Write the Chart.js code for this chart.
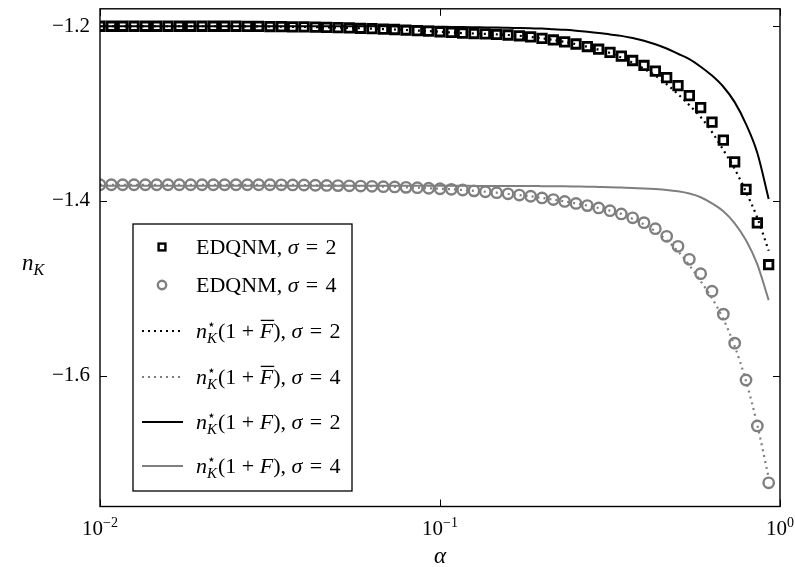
<!DOCTYPE html>
<html>
<head>
<meta charset="utf-8">
<script src="https://cdn.jsdelivr.net/npm/chart.js@4.4.1/dist/chart.umd.min.js"></script>
<style>
  html, body { margin: 0; padding: 0; background: #ffffff; }
  #wrap { width: 795px; height: 567px; position: relative; }
</style>
</head>
<body>
<div id="wrap"><canvas id="chart"></canvas></div>
<script>
// Sample points in alpha (30 per decade)
const alpha = [
  0.01, 0.010798, 0.011659, 0.012589, 0.013594, 0.014678, 0.015849, 0.017113, 0.018478, 0.019953,
  0.021544, 0.023263, 0.025119, 0.027123, 0.029286, 0.031623, 0.034145, 0.036869, 0.039811, 0.042987,
  0.046416, 0.050119, 0.054117, 0.058434, 0.063096, 0.068129, 0.073564, 0.079433, 0.085770, 0.092612,
  0.1, 0.10798, 0.11659, 0.12589, 0.13594, 0.14678, 0.15849, 0.17113, 0.18478, 0.19953,
  0.21544, 0.23263, 0.25119, 0.27123, 0.29286, 0.31623, 0.34145, 0.36869, 0.39811, 0.42987,
  0.46416, 0.50119, 0.54117, 0.58434, 0.63096, 0.68129, 0.73564, 0.79433, 0.85770, 0.92612
];

// EDQNM, sigma = 2 (squares)
const edqnmSigma2 = [
  -1.2000, -1.2000, -1.2000, -1.2000, -1.2000, -1.2000, -1.2000, -1.2000, -1.2000, -1.2000,
  -1.2000, -1.2000, -1.2000, -1.2001, -1.2002, -1.2003, -1.2005, -1.2006, -1.2008, -1.2010,
  -1.2013, -1.2016, -1.2019, -1.2023, -1.2027, -1.2032, -1.2037, -1.2043, -1.2049, -1.2056,
  -1.2063, -1.2071, -1.2078, -1.2083, -1.2088, -1.2094, -1.2100, -1.2109, -1.2122, -1.2138,
  -1.2157, -1.2179, -1.2203, -1.2232, -1.2263, -1.2299, -1.2343, -1.2392, -1.2449, -1.2514,
  -1.2589, -1.2680, -1.2794, -1.2931, -1.3097, -1.3303, -1.3554, -1.3869, -1.4251, -1.4731
];

// EDQNM, sigma = 4 (circles)
const edqnmSigma4 = [
  -1.3815, -1.3815, -1.3815, -1.3815, -1.3815, -1.3815, -1.3815, -1.3815, -1.3815, -1.3815,
  -1.3815, -1.3815, -1.3815, -1.3815, -1.3815, -1.3815, -1.3816, -1.3817, -1.3818, -1.3821,
  -1.3823, -1.3825, -1.3827, -1.3830, -1.3833, -1.3837, -1.3840, -1.3845, -1.3849, -1.3855,
  -1.3861, -1.3867, -1.3875, -1.3885, -1.3895, -1.3906, -1.3919, -1.3933, -1.3947, -1.3966,
  -1.3985, -1.4006, -1.4029, -1.4054, -1.4081, -1.4112, -1.4149, -1.4194, -1.4249, -1.4318,
  -1.4406, -1.4520, -1.4669, -1.4834, -1.5034, -1.5297, -1.5629, -1.6051, -1.6577, -1.7229
];

// n*(1 + F-bar), sigma = 2 (black dotted)
const fbarSigma2 = [
  -1.2000, -1.2000, -1.2000, -1.2000, -1.2000, -1.2000, -1.2000, -1.2000, -1.2000, -1.2000,
  -1.2000, -1.2000, -1.2000, -1.2001, -1.2002, -1.2003, -1.2005, -1.2006, -1.2008, -1.2010,
  -1.2013, -1.2016, -1.2019, -1.2023, -1.2027, -1.2032, -1.2037, -1.2043, -1.2049, -1.2056,
  -1.2063, -1.2071, -1.2078, -1.2083, -1.2088, -1.2094, -1.2100, -1.2109, -1.2122, -1.2138,
  -1.2157, -1.2179, -1.2205, -1.2235, -1.2268, -1.2306, -1.2360, -1.2417, -1.2486, -1.2566,
  -1.2663, -1.2777, -1.2903, -1.3040, -1.3211, -1.3417, -1.3634, -1.3897, -1.4194, -1.4571
];

// n*(1 + F-bar), sigma = 4 (grey dotted)
const fbarSigma4 = [
  -1.3815, -1.3815, -1.3815, -1.3815, -1.3815, -1.3815, -1.3815, -1.3815, -1.3815, -1.3815,
  -1.3815, -1.3815, -1.3815, -1.3815, -1.3815, -1.3815, -1.3816, -1.3817, -1.3818, -1.3821,
  -1.3823, -1.3825, -1.3827, -1.3830, -1.3833, -1.3837, -1.3840, -1.3845, -1.3849, -1.3855,
  -1.3861, -1.3867, -1.3875, -1.3885, -1.3895, -1.3906, -1.3919, -1.3933, -1.3947, -1.3966,
  -1.3985, -1.4006, -1.4029, -1.4054, -1.4081, -1.4112, -1.4149, -1.4206, -1.4269, -1.4349,
  -1.4451, -1.4577, -1.4737, -1.4920, -1.5114, -1.5354, -1.5663, -1.6063, -1.6566, -1.7171
];

// n*(1 + F), sigma = 2 (black solid)
const fSigma2 = [
  -1.2000, -1.2000, -1.2000, -1.2000, -1.2000, -1.2000, -1.2000, -1.2000, -1.2000, -1.2000,
  -1.2000, -1.2000, -1.2000, -1.2000, -1.2000, -1.2000, -1.2000, -1.2000, -1.2000, -1.2000,
  -1.2000, -1.2000, -1.2000, -1.2000, -1.2000, -1.2000, -1.2002, -1.2003, -1.2004, -1.2005,
  -1.2006, -1.2008, -1.2009, -1.2011, -1.2013, -1.2015, -1.2018, -1.2021, -1.2024, -1.2027,
  -1.2034, -1.2041, -1.2051, -1.2063, -1.2077, -1.2094, -1.2110, -1.2135, -1.2166, -1.2206,
  -1.2255, -1.2315, -1.2376, -1.2463, -1.2565, -1.2693, -1.2869, -1.3120, -1.3451, -1.3977
];

// n*(1 + F), sigma = 4 (grey solid)
const fSigma4 = [
  -1.3826, -1.3826, -1.3826, -1.3826, -1.3826, -1.3826, -1.3826, -1.3826, -1.3826, -1.3826,
  -1.3826, -1.3826, -1.3826, -1.3826, -1.3826, -1.3826, -1.3826, -1.3826, -1.3826, -1.3826,
  -1.3826, -1.3826, -1.3826, -1.3826, -1.3826, -1.3826, -1.3826, -1.3826, -1.3826, -1.3826,
  -1.3826, -1.3827, -1.3827, -1.3828, -1.3828, -1.3829, -1.3829, -1.3830, -1.3830, -1.3831,
  -1.3832, -1.3833, -1.3835, -1.3837, -1.3840, -1.3843, -1.3848, -1.3853, -1.3857, -1.3864,
  -1.3874, -1.3890, -1.3916, -1.3958, -1.4029, -1.4120, -1.4257, -1.4451, -1.4726, -1.5137
];

const xTickValues = [0.01, 0.1, 1];
const xTickExponents = ['\u22122', '\u22121', '0'];
const yTickValues = [-1.6, -1.4, -1.2];

const BLACK = '#000000';
const GREY = '#7f7f7f';
const SERIF = "'Liberation Serif', 'DejaVu Serif', serif";
const EQ = '\u2004=\u2004';

const pts = ys => alpha.map((a, i) => ({ x: a, y: ys[i] }));

const markerSet = (label, ys, color, style, radius, bw) => ({
  label, data: pts(ys), showLine: false,
  pointStyle: style, pointRadius: radius, pointHoverRadius: radius,
  pointBorderColor: color, pointBackgroundColor: 'rgba(0,0,0,0)',
  pointBorderWidth: bw, borderColor: color, backgroundColor: 'rgba(0,0,0,0)'
});
const lineSet = (label, ys, color, dash) => ({
  label, data: pts(ys), showLine: true, pointRadius: 0, pointHoverRadius: 0,
  borderColor: color, borderWidth: dash.length ? 2.2 : 2, borderDash: dash,
  cubicInterpolationMode: 'monotone', fill: false
});

const datasets = [
  markerSet('EDQNM, σ = 2', edqnmSigma2, BLACK, 'rect', 6, 2.8),
  markerSet('EDQNM, σ = 4', edqnmSigma4, GREY, 'circle', 5.2, 2.4),
  lineSet('n*(1 + F̄), σ = 2', fbarSigma2, BLACK, [2, 4]),
  lineSet('n*(1 + F̄), σ = 4', fbarSigma4, GREY, [2, 4]),
  lineSet('n*(1 + F), σ = 2', fSigma2, BLACK, []),
  lineSet('n*(1 + F), σ = 4', fSigma4, GREY, [])
];

// Rich text pieces for the legend entries
function mathLabel(bar, sigma) {
  return [
    { t: 'n', it: true },
    { t: '\u22C6', size: 14, dy: -9, stack: true },
    { t: 'K', it: true, size: 15, dy: 5 },
    { t: '(1\u2005+\u2005' },
    { t: 'F', it: true, over: bar },
    { t: '), ' },
    { t: 'σ', it: true },
    { t: EQ + sigma }
  ];
}
const legendRows = [
  [{ t: 'EDQNM, ' }, { t: 'σ', it: true }, { t: EQ + '2' }],
  [{ t: 'EDQNM, ' }, { t: 'σ', it: true }, { t: EQ + '4' }],
  mathLabel(true, 2),
  mathLabel(true, 4),
  mathLabel(false, 2),
  mathLabel(false, 4)
];

function drawRich(ctx, pieces, x, baseline, baseSize) {
  let cx = x;
  let stackX = null;
  for (const p of pieces) {
    const size = p.size || baseSize;
    ctx.font = (p.it ? 'italic ' : '') + size + 'px ' + SERIF;
    const w = ctx.measureText(p.t).width;
    const drawX = (stackX !== null) ? stackX : cx;
    ctx.fillText(p.t, drawX, baseline + (p.dy || 0));
    if (p.over) {
      ctx.save();
      ctx.lineWidth = 1.3;
      ctx.beginPath();
      ctx.moveTo(drawX + 1, baseline - size * 0.8);
      ctx.lineTo(drawX + w + 1, baseline - size * 0.8);
      ctx.stroke();
      ctx.restore();
    }
    if (p.stack) {
      stackX = cx;
      continue;
    }
    if (stackX !== null) {
      cx = stackX + w + 1;
      stackX = null;
    } else {
      cx += w;
    }
  }
  return cx;
}

const framePlugin = {
  id: 'frameAndLabels',
  afterDraw(chart) {
    const { ctx, chartArea: a, scales } = chart;
    const xs = scales.x, ys = scales.y;
    ctx.save();
    ctx.strokeStyle = BLACK;
    ctx.fillStyle = BLACK;

    // Box around plot area
    ctx.lineWidth = 1.4;
    ctx.strokeRect(a.left, a.top, a.right - a.left, a.bottom - a.top);

    // Inward tick marks on all four sides
    ctx.lineWidth = 1;
    const tl = 7;
    ctx.beginPath();
    for (const t of ys.ticks) {
      const py = Math.round(ys.getPixelForValue(t.value)) + 0.5;
      ctx.moveTo(a.left, py); ctx.lineTo(a.left + tl, py);
      ctx.moveTo(a.right, py); ctx.lineTo(a.right - tl, py);
    }
    for (const t of xs.ticks) {
      const px = Math.round(xs.getPixelForValue(t.value)) + 0.5;
      ctx.moveTo(px, a.bottom); ctx.lineTo(px, a.bottom - tl);
      ctx.moveTo(px, a.top); ctx.lineTo(px, a.top + tl);
    }
    ctx.stroke();

    // Decade labels on the x axis
    ctx.textBaseline = 'alphabetic';
    ctx.textAlign = 'left';
    xs.ticks.forEach((t, i) => {
      const px = xs.getPixelForValue(t.value);
      ctx.font = '21px ' + SERIF;
      const wBase = ctx.measureText('10').width;
      ctx.font = '14px ' + SERIF;
      const wExp = ctx.measureText(xTickExponents[i]).width;
      const x0 = px - (wBase + wExp) / 2;
      ctx.font = '21px ' + SERIF;
      ctx.fillText('10', x0, 535);
      ctx.font = '14px ' + SERIF;
      ctx.fillText(xTickExponents[i], x0 + wBase, 527);
    });

    // Axis titles
    ctx.font = 'italic 23px ' + SERIF;
    ctx.textAlign = 'center';
    ctx.fillText('α', (a.left + a.right) / 2, 563);
    ctx.textAlign = 'left';
    ctx.font = 'italic 23px ' + SERIF;
    ctx.fillText('n', 22, 270);
    const nW = ctx.measureText('n').width;
    ctx.font = 'italic 16px ' + SERIF;
    ctx.fillText('K', 22 + nW, 275);

    // Legend
    const L = { left: 133, top: 224, right: 352, bottom: 491 };
    ctx.fillStyle = '#ffffff';
    ctx.fillRect(L.left, L.top, L.right - L.left, L.bottom - L.top);
    ctx.lineWidth = 1.3;
    ctx.strokeStyle = BLACK;
    ctx.strokeRect(L.left, L.top, L.right - L.left, L.bottom - L.top);
    const rowY = [247, 285, 331, 377, 422, 466];
    chart.data.datasets.forEach((ds, i) => {
      const y = rowY[i];
      ctx.save();
      if (ds.showLine) {
        ctx.strokeStyle = ds.borderColor;
        ctx.lineWidth = ds.borderWidth;
        ctx.setLineDash(ds.borderDash || []);
        ctx.beginPath();
        ctx.moveTo(142, y); ctx.lineTo(183, y);
        ctx.stroke();
      } else {
        ctx.strokeStyle = ds.pointBorderColor;
        ctx.lineWidth = 2.4;
        if (ds.pointStyle === 'rect') {
          const s = 3.4;
          ctx.strokeRect(162 - s, y - s, 2 * s, 2 * s);
        } else {
          ctx.beginPath();
          ctx.arc(162, y, 4.2, 0, Math.PI * 2);
          ctx.stroke();
        }
      }
      ctx.restore();
      ctx.fillStyle = BLACK;
      drawRich(ctx, legendRows[i], 196, y + 7, 22);
    });
    ctx.restore();
  }
};

new Chart(document.getElementById('chart'), {
  type: 'line',
  data: { datasets },
  options: {
    responsive: true,
    maintainAspectRatio: false,
    animation: false,
    events: [],
    layout: { padding: { top: 8, right: 15, left: 0, bottom: 0 } },
    plugins: { legend: { display: false }, tooltip: { enabled: false } },
    scales: {
      x: {
        type: 'logarithmic',
        min: 0.01,
        max: 1,
        afterBuildTicks: s => { s.ticks = xTickValues.map(v => ({ value: v })); },
        afterFit: s => { s.height = 60.5; s.paddingLeft = 0; s.paddingRight = 0; },
        ticks: { display: false },
        grid: { display: false },
        border: { display: false }
      },
      y: {
        type: 'linear',
        min: -1.75,
        max: -1.18,
        afterBuildTicks: s => { s.ticks = yTickValues.map(v => ({ value: v })); },
        afterFit: s => { s.width = 100; s.paddingTop = 0; s.paddingBottom = 0; },
        ticks: {
          color: BLACK,
          padding: 10,
          font: { family: SERIF, size: 21 },
          callback: v => '\u2212' + Math.abs(v).toFixed(1)
        },
        grid: { display: false, drawTicks: false },
        border: { display: false }
      }
    }
  },
  plugins: [framePlugin]
});
</script>
</body>
</html>
